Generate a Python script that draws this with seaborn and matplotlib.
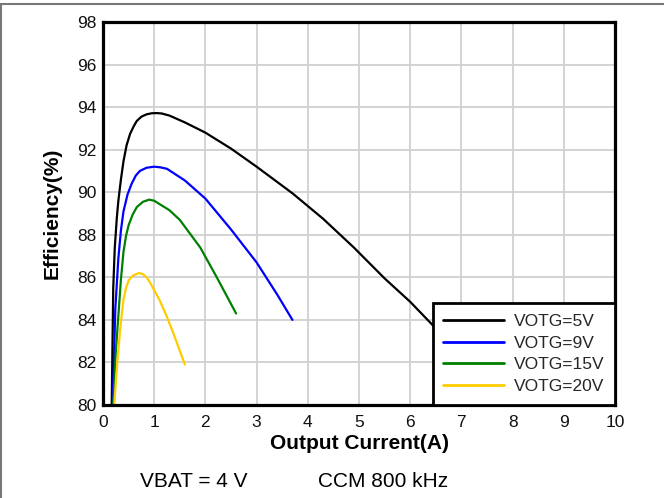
import matplotlib
matplotlib.use("Agg")
import matplotlib.pyplot as plt
from matplotlib.lines import Line2D
import seaborn as sns
import pandas as pd

# ---- data ----
series_names = ["VOTG=5V", "VOTG=9V", "VOTG=15V", "VOTG=20V"]

x_5v = [0.17, 0.20, 0.23, 0.27, 0.30, 0.35, 0.40, 0.46, 0.53, 0.60, 0.66, 0.75, 0.85, 0.95, 1.05, 1.15, 1.30, 1.60, 2.00, 2.50, 3.00, 3.70, 4.30, 4.90, 5.50, 6.00, 6.50, 7.00]
y_5v = [80.0, 85.5, 87.4, 88.8, 89.6, 90.6, 91.45, 92.2, 92.75, 93.1, 93.35, 93.55, 93.66, 93.71, 93.72, 93.7, 93.6, 93.28, 92.8, 92.05, 91.2, 89.95, 88.75, 87.4, 85.95, 84.85, 83.6, 82.4]

x_9v = [0.19, 0.24, 0.30, 0.35, 0.40, 0.48, 0.56, 0.64, 0.72, 0.85, 1.00, 1.12, 1.25, 1.60, 2.00, 2.50, 3.00, 3.40, 3.70]
y_9v = [80.0, 84.5, 86.9, 88.2, 89.1, 89.9, 90.4, 90.78, 91.0, 91.15, 91.2, 91.17, 91.1, 90.55, 89.7, 88.25, 86.7, 85.2, 84.0]

x_15v = [0.20, 0.25, 0.30, 0.35, 0.40, 0.45, 0.50, 0.58, 0.66, 0.78, 0.90, 1.00, 1.10, 1.30, 1.50, 1.90, 2.20, 2.60]
y_15v = [80.0, 82.5, 84.2, 85.9, 87.2, 87.95, 88.45, 88.95, 89.3, 89.55, 89.65, 89.6, 89.45, 89.15, 88.7, 87.4, 86.1, 84.3]

x_20v = [0.22, 0.26, 0.30, 0.35, 0.40, 0.45, 0.50, 0.55, 0.60, 0.70, 0.78, 0.85, 0.92, 1.00, 1.10, 1.23, 1.37, 1.50, 1.60]
y_20v = [80.0, 81.4, 82.6, 83.9, 84.95, 85.5, 85.85, 86.0, 86.1, 86.2, 86.15, 86.0, 85.75, 85.4, 84.95, 84.25, 83.4, 82.55, 81.9]

x_ticks = [0, 1, 2, 3, 4, 5, 6, 7, 8, 9, 10]
y_ticks = [80, 82, 84, 86, 88, 90, 92, 94, 96, 98]

colors = {"VOTG=5V": "#000000", "VOTG=9V": "#0000FF",
          "VOTG=15V": "#008000", "VOTG=20V": "#FFCC00"}

frames = []
for name, xs, ys in zip(series_names, [x_5v, x_9v, x_15v, x_20v], [y_5v, y_9v, y_15v, y_20v]):
    frames.append(pd.DataFrame({"current": xs, "eff": ys, "series": name}))
df = pd.concat(frames, ignore_index=True)

# ---- style ----
sns.set_theme(style="white")
plt.rcParams["font.family"] = ["Liberation Sans", "DejaVu Sans"]

fig = plt.figure(figsize=(6.64, 4.98), dpi=100)
ax = fig.add_axes([103 / 664, 1 - 405 / 498, 512 / 664, 383 / 498])

sns.lineplot(data=df, x="current", y="eff", hue="series", hue_order=series_names,
             palette=colors, linewidth=1.6, ax=ax, sort=False, estimator=None,
             legend=True)

ax.set_xlim(0, 10)
ax.set_ylim(80, 98)
ax.set_xticks(x_ticks)
ax.set_yticks(y_ticks)
ax.set_xticklabels([str(v) for v in x_ticks])
ax.set_yticklabels([str(v) for v in y_ticks])
ax.grid(True, color="#d0d0d0", linewidth=1.3)
ax.set_axisbelow(True)
for s in ax.spines.values():
    s.set_color("black")
    s.set_linewidth(2.3)
    s.set_visible(True)
ax.tick_params(axis="both", length=0, labelsize=12.5, colors="#111111")
ax.tick_params(axis="x", pad=7)
ax.tick_params(axis="y", pad=5)

ax.set_xlabel("Output Current(A)", fontsize=15, fontweight="bold", color="black")
ax.set_ylabel("Efficiency(%)", fontsize=15, fontweight="bold", color="black")
ax.xaxis.set_label_coords(0.5, -(434 - 405) / 383)
ax.yaxis.set_label_coords(-(103 - 62) / 512, 0.5)

handles, labels = ax.get_legend_handles_labels()
leg = ax.legend(handles, labels, loc="lower right", borderaxespad=0, frameon=True,
                fancybox=False, framealpha=1, edgecolor="black", fontsize=12.5,
                handlelength=3.5, handletextpad=0.55, labelspacing=0.38,
                borderpad=0.62, title=None)
leg.get_frame().set_linewidth(2.0)
for h in leg.get_lines():
    h.set_linewidth(2.0)

fig.text(140 / 664, 1 - 481 / 498, "VBAT = 4 V", fontsize=15, ha="left", va="center", color="black")
fig.text(318 / 664, 1 - 481 / 498, "CCM 800 kHz", fontsize=15, ha="left", va="center", color="black")

# thin gray frame lines at top and left of the image
fig.add_artist(Line2D([0, 1], [1 - 4 / 498, 1 - 4 / 498], transform=fig.transFigure, color="#777777", linewidth=1.5))
fig.add_artist(Line2D([0.5 / 664, 0.5 / 664], [0, 1 - 4 / 498], transform=fig.transFigure, color="#777777", linewidth=1.5))

fig.savefig("out.png", dpi=100)
